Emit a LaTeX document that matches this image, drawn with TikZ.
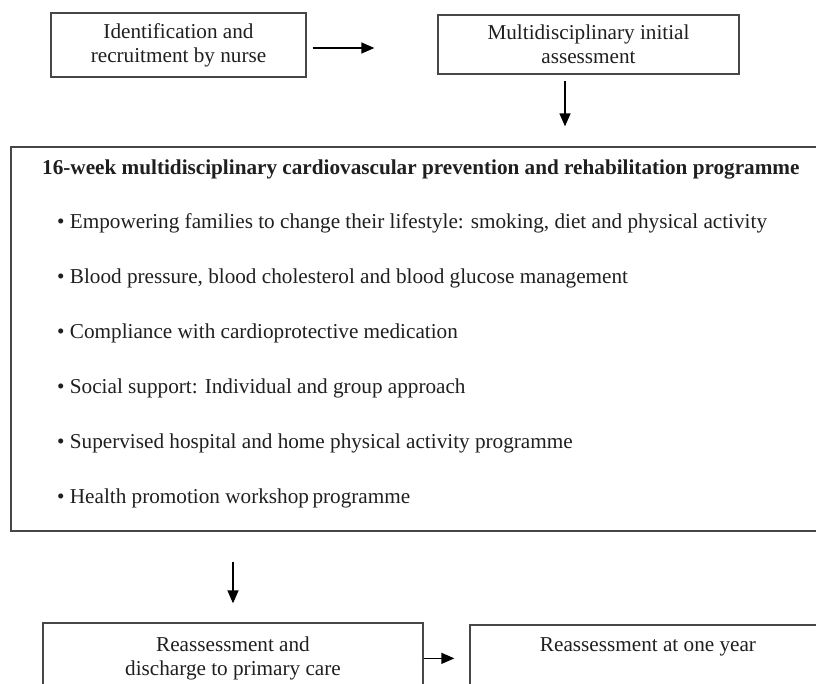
\documentclass[tikz,border=0pt]{standalone}
\usepackage{fontspec}
\setmainfont{Liberation Serif}
\usetikzlibrary{arrows.meta,calc}
\begin{document}
\begin{tikzpicture}[x=1pt,y=-1pt,
  box/.style={draw=black!72, line width=1.3pt, rectangle, inner sep=0pt},
  lbl/.style={font=\fontsize{21.2}{24}\selectfont, text=black!88, align=center, inner sep=0pt},
  item/.style={font=\fontsize{21.2}{24}\selectfont, text=black!88, anchor=base west, inner sep=0pt},
  arr/.style={line width=1.3pt, -{Triangle[length=13pt,width=11pt]}}]
\clip (0,0) rectangle (816,683);

% top row
\node[box, lbl, minimum width=255pt, minimum height=64pt] (ident) at (178.5,45)
  {Identification and\\recruitment by nurse};
\node[box, lbl, minimum width=301pt, minimum height=59pt] (assess) at (588.5,44.5)
  {Multidisciplinary initial\\assessment};

% programme box
\node[box, minimum width=819pt, minimum height=384pt] (prog) at (420.5,339) {};
\node[item] (title) at (42,174) {\bfseries 16-week multidisciplinary cardiovascular prevention and rehabilitation programme};
\node[item] (i1) at (57,228) {• Empowering families to change their lifestyle: smoking, diet and physical activity};
\node[item] (i2) at (57,283) {• Blood pressure, blood cholesterol and blood glucose management};
\node[item] (i3) at (57,338) {• Compliance with cardioprotective medication};
\node[item] (i4) at (57,393) {• Social support: Individual and group approach};
\node[item] (i5) at (57,448) {• Supervised hospital and home physical activity programme};
\node[item] (i6) at (57,503) {• Health promotion workshop\,programme};

% bottom row
\node[box, minimum width=380pt, minimum height=97pt] (reass) at (233,671.5) {};
\node[lbl, anchor=north] (reasstxt) at (233,636.5) {Reassessment and\\discharge to primary care};
\node[box, minimum width=356pt, minimum height=95pt] (year) at (648,672.5) {};
\node[lbl, anchor=base] (yeartxt) at (648,651) {Reassessment at one year};

% connectors
\draw[arr, shorten <=6pt, shorten >=63pt] ([yshift=-3pt]ident.east) -- ([yshift=-3pt]ident.east -| assess.west);
\draw[arr, shorten <=6pt, shorten >=20pt] ([xshift=-23.5pt]assess.south) -- ([xshift=-23.5pt]assess.south |- prog.north);
\draw[arr, shorten <=30pt, shorten >=19pt] (reass.north |- prog.south) -- (reass.north);
\draw[arr, shorten >=15pt] ([yshift=-36pt]reass.north east) -- ([yshift=-36pt]reass.north east -| year.west);
\end{tikzpicture}
\end{document}
